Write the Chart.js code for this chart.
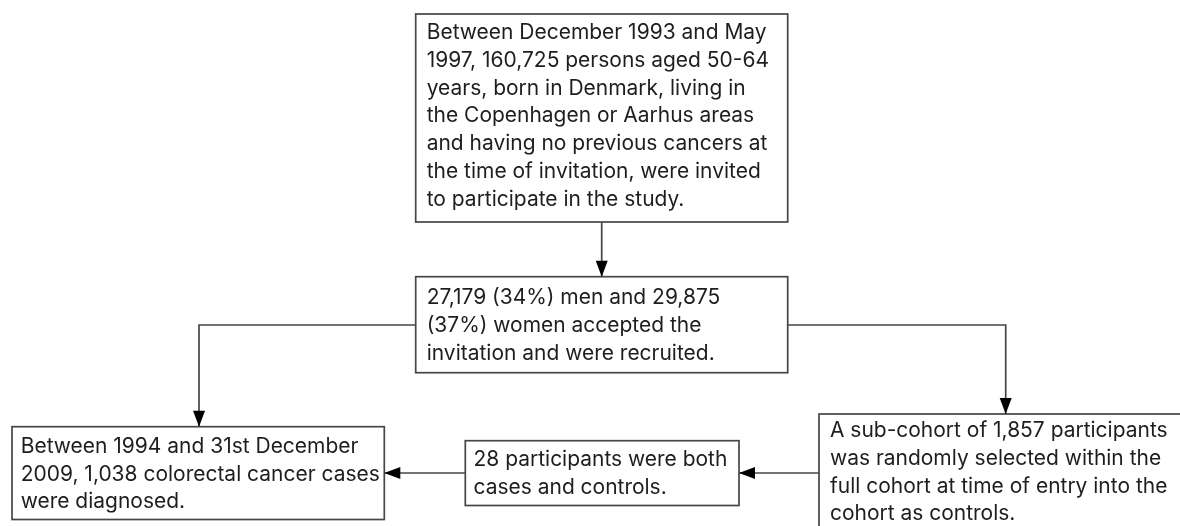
<!DOCTYPE html>
<html>
<head>
<meta charset="utf-8">
<style>
  html, body { margin: 0; padding: 0; background: #ffffff; }
  #wrap { width: 1180px; height: 526px; }
</style>
<script src="https://cdn.jsdelivr.net/npm/chart.js@4.4.1/dist/chart.umd.min.js"></script>
</head>
<body>
<div id="wrap"><canvas id="c" width="1180" height="526"></canvas></div>
<script>
// ---- Content (flowchart steps) ----
const stepIds = ['invited', 'recruited', 'cases', 'overlap', 'subcohort'];
const stepLines = [
  ['Between December 1993 and May',
   '1997, 160,725 persons aged 50-64',
   'years, born in Denmark, living in',
   'the Copenhagen or Aarhus areas',
   'and having no previous cancers at',
   'the time of invitation, were invited',
   'to participate in the study.'],
  ['27,179 (34%) men and 29,875',
   '(37%) women accepted the',
   'invitation and were recruited.'],
  ['Between 1994 and 31st December',
   '2009, 1,038 colorectal cancer cases',
   'were diagnosed.'],
  ['28 participants were both',
   'cases and controls.'],
  ['A sub-cohort of 1,857 participants',
   'was randomly selected within the',
   'full cohort at time of entry into the',
   'cohort as controls.']
];
// connections: [from, to]
const linkFrom = ['invited', 'recruited', 'recruited', 'subcohort', 'overlap'];
const linkTo   = ['recruited', 'cases', 'subcohort', 'overlap', 'cases'];

// ---- Layout (in the hidden axis units, which map 1:1 to the page) ----
const layout = {
  invited:   { l: 415.7, t: 14,    r: 787.7, b: 222,   firstLine: 33,    tx: 426.7 },
  recruited: { l: 415.7, t: 276.7, r: 787.7, b: 372.7, firstLine: 298,   tx: 426.7 },
  cases:     { l: 12,    t: 426.7, r: 384.3, b: 519.5, firstLine: 446.5, tx: 20.7 },
  overlap:   { l: 465.3, t: 440.7, r: 739,   b: 505.5, firstLine: 460,   tx: 473.5 },
  subcohort: { l: 819,   t: 414,   r: 1190,  b: 540,   firstLine: 431,   tx: 830 }
};
const routes = [
  [[601.7, 222], [601.7, 276.7]],
  [[415.7, 325], [199, 325], [199, 426.7]],
  [[787.7, 325], [1005.7, 325], [1005.7, 414]],
  [[819, 473], [739, 473]],
  [[465.3, 473], [384.3, 473]]
];
const lineHeight = 27.7;
const strokeColor = '#464646';
const textColor = '#1e1e1e';
const fontFamily = 'Inter, "Open Sans", sans-serif';
// reference widths of a few lines, used to size the font
const fitLines = ['the Copenhagen or Aarhus areas', '2009, 1,038 colorectal cancer cases',
                  'A sub-cohort of 1,857 participants', '28 participants were both',
                  '27,179 (34%) men and 29,875'];
const fitWidths = [328, 356, 337, 253, 298];

function fitFontSize() {
  const cv = document.createElement('canvas').getContext('2d');
  cv.font = '20px ' + fontFamily;
  let s = 0;
  fitLines.forEach((t, i) => { s += 20 * fitWidths[i] / cv.measureText(t).width; });
  return s / fitLines.length;
}

const datasets = routes.map((pts, i) => ({
  label: linkFrom[i] + '->' + linkTo[i],
  data: pts.map(p => ({ x: p[0], y: p[1] })),
  borderColor: strokeColor,
  borderWidth: 1.7,
  pointRadius: 0,
  fill: false,
  tension: 0
}));

const flowPlugin = {
  id: 'flow',
  afterDatasetsDraw(chart) {
    const ctx = chart.ctx;
    const xs = chart.scales.x, ys = chart.scales.y;
    const fs = fitFontSize();
    ctx.save();
    stepIds.forEach((id, i) => {
      const b = layout[id];
      const x0 = xs.getPixelForValue(b.l), x1 = xs.getPixelForValue(b.r);
      const y0 = ys.getPixelForValue(b.t), y1 = ys.getPixelForValue(b.b);
      ctx.strokeStyle = strokeColor;
      ctx.lineWidth = 1.7;
      ctx.strokeRect(x0, y0, x1 - x0, y1 - y0);
      ctx.fillStyle = textColor;
      ctx.font = fs.toFixed(2) + 'px ' + fontFamily;
      ctx.textBaseline = 'middle';
      ctx.textAlign = 'left';
      stepLines[i].forEach((ln, k) => {
        ctx.fillText(ln, xs.getPixelForValue(b.tx), ys.getPixelForValue(b.firstLine + k * lineHeight));
      });
    });
    routes.forEach(pts => {
      const a = pts[pts.length - 2], e = pts[pts.length - 1];
      const ax = xs.getPixelForValue(a[0]), ay = ys.getPixelForValue(a[1]);
      const ex = xs.getPixelForValue(e[0]), ey = ys.getPixelForValue(e[1]);
      const ang = Math.atan2(ey - ay, ex - ax);
      const len = 16, half = 6;
      ctx.fillStyle = '#000';
      ctx.beginPath();
      ctx.moveTo(ex, ey);
      ctx.lineTo(ex - len * Math.cos(ang) + half * Math.sin(ang), ey - len * Math.sin(ang) - half * Math.cos(ang));
      ctx.lineTo(ex - len * Math.cos(ang) - half * Math.sin(ang), ey - len * Math.sin(ang) + half * Math.cos(ang));
      ctx.closePath();
      ctx.fill();
    });
    ctx.restore();
  }
};

new Chart(document.getElementById('c'), {
  type: 'line',
  data: { datasets },
  options: {
    responsive: false,
    animation: false,
    layout: { padding: 0 },
    plugins: { legend: { display: false }, tooltip: { enabled: false } },
    scales: {
      x: { type: 'linear', min: 0, max: 1180, display: false },
      y: { type: 'linear', min: 0, max: 526, reverse: true, display: false }
    }
  },
  plugins: [flowPlugin, {
    id: 'bg',
    beforeDraw(chart) {
      const c = chart.ctx; c.save(); c.fillStyle = '#fff';
      c.fillRect(0, 0, chart.width, chart.height); c.restore();
    }
  }]
});
</script>
</body>
</html>
